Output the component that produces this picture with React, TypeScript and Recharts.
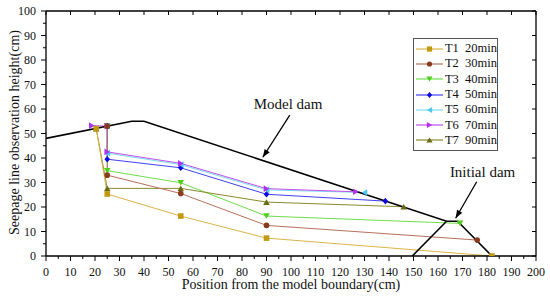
import { Legend, Line, LineChart, ReferenceDot, XAxis, YAxis } from "recharts";

// Seepage line positions at each observation time, plus the dam outlines.
// Values read off the figure by eye.

const FONT = "'Liberation Serif', 'Times New Roman', serif";

const xTicks = [
  0, 5, 10, 15, 20, 25, 30, 35, 40, 45, 50, 55, 60, 65, 70, 75, 80, 85, 90, 95,
  100, 105, 110, 115, 120, 125, 130, 135, 140, 145, 150, 155, 160, 165, 170,
  175, 180, 185, 190, 195, 200,
];
const xMajor = [0, 10, 20, 30, 40, 50, 60, 70, 80, 90, 100, 110, 120, 130, 140, 150, 160, 170, 180, 190, 200];
const yTicks = [0, 5, 10, 15, 20, 25, 30, 35, 40, 45, 50, 55, 60, 65, 70, 75, 80, 85, 90, 95, 100];
const yMajor = [0, 10, 20, 30, 40, 50, 60, 70, 80, 90, 100];

const t1 = [
  { x: 20.5, y: 52 },
  { x: 25, y: 25.3 },
  { x: 55, y: 16.3 },
  { x: 90, y: 7.3 },
  { x: 182, y: 0 },
];
const t2 = [
  { x: 25, y: 53 },
  { x: 25, y: 33 },
  { x: 55, y: 25.5 },
  { x: 90, y: 12.5 },
  { x: 176, y: 6.5 },
];
const t3 = [
  { x: 25, y: 53 },
  { x: 25, y: 34.8 },
  { x: 55, y: 29.9 },
  { x: 90, y: 16.3 },
  { x: 169, y: 13.3 },
];
const t4 = [
  { x: 25, y: 53 },
  { x: 25, y: 39.5 },
  { x: 55, y: 36 },
  { x: 90, y: 25.2 },
  { x: 138.5, y: 22.4 },
];
const t5 = [
  { x: 25, y: 53 },
  { x: 25, y: 42 },
  { x: 55, y: 37.3 },
  { x: 90, y: 27 },
  { x: 130, y: 25.9 },
];
const t6 = [
  { x: 18.7, y: 53.2 },
  { x: 25, y: 53 },
  { x: 25, y: 42.5 },
  { x: 55, y: 37.8 },
  { x: 90, y: 27.5 },
  { x: 126.5, y: 26.2 },
];
const t7 = [
  { x: 20.5, y: 52 },
  { x: 25, y: 27.6 },
  { x: 55, y: 27.6 },
  { x: 90, y: 22 },
  { x: 146, y: 20.1 },
];

const damOutline = [
  { x: 0, y: 48 },
  { x: 35, y: 55 },
  { x: 40, y: 55 },
  { x: 163.5, y: 14.2 },
  { x: 168, y: 14.2 },
  { x: 182, y: 0 },
];
const initialDamLeg = [
  { x: 149.5, y: 0 },
  { x: 163.5, y: 14.2 },
];
const modelArrow = [
  { x: 99.5, y: 57.5 },
  { x: 88.5, y: 40.3 },
];
const initialArrow = [
  { x: 175.8, y: 30.3 },
  { x: 167.2, y: 15.4 },
];

type Shape = "square" | "circle" | "down" | "diamond" | "left" | "right" | "up";

const series = [
  { name: "T1", time: "20min", data: t1, line: "#dcb44a", fill: "#c29a12", shape: "square" as Shape },
  { name: "T2", time: "30min", data: t2, line: "#b8705a", fill: "#8a3a1c", shape: "circle" as Shape },
  { name: "T3", time: "40min", data: t3, line: "#6ee04a", fill: "#4fcf1c", shape: "down" as Shape },
  { name: "T4", time: "50min", data: t4, line: "#4040ee", fill: "#0a0ae0", shape: "diamond" as Shape },
  { name: "T5", time: "60min", data: t5, line: "#7adcee", fill: "#4cc8ee", shape: "left" as Shape },
  { name: "T6", time: "70min", data: t6, line: "#c050ee", fill: "#b030f0", shape: "right" as Shape },
  { name: "T7", time: "90min", data: t7, line: "#8a8a30", fill: "#6a6a10", shape: "up" as Shape },
];

// paint order: T1 and T2 end up on top where the start points pile up
const drawOrder = ["T3", "T4", "T5", "T6", "T7", "T1", "T2"];

function Marker({ shape, cx, cy, color, s = 3 }: { shape: Shape; cx: number; cy: number; color: string; s?: number }) {
  switch (shape) {
    case "square":
      return <rect x={cx - s} y={cy - s} width={s * 2} height={s * 2} fill={color} />;
    case "circle":
      return <circle cx={cx} cy={cy} r={s} fill={color} />;
    case "down":
      return <polygon points={`${cx - s - 0.5},${cy - s} ${cx + s + 0.5},${cy - s} ${cx},${cy + s}`} fill={color} />;
    case "up":
      return <polygon points={`${cx - s - 0.5},${cy + s} ${cx + s + 0.5},${cy + s} ${cx},${cy - s}`} fill={color} />;
    case "diamond":
      return <polygon points={`${cx},${cy - s - 0.5} ${cx + s},${cy} ${cx},${cy + s + 0.5} ${cx - s},${cy}`} fill={color} />;
    case "left":
      return <polygon points={`${cx + s},${cy - s - 0.5} ${cx + s},${cy + s + 0.5} ${cx - s},${cy}`} fill={color} />;
    case "right":
      return <polygon points={`${cx - s},${cy - s - 0.5} ${cx - s},${cy + s + 0.5} ${cx + s},${cy}`} fill={color} />;
  }
}

function BottomTick({ x, y, payload }: any) {
  const major = xMajor.includes(payload.value);
  return (
    <g>
      <line x1={x} x2={x} y1={y} y2={y + (major ? 5 : 3)} stroke="#000" strokeWidth={1} />
      {major && (
        <text x={x} y={y + 19.5} textAnchor="middle" fontSize={12} fontFamily={FONT} fill="#111">
          {payload.value}
        </text>
      )}
    </g>
  );
}

function LeftTick({ x, y, payload }: any) {
  const major = yMajor.includes(payload.value);
  return (
    <g>
      <line x1={x} x2={x - (major ? 5 : 3)} y1={y} y2={y} stroke="#000" strokeWidth={1} />
      {major && (
        <text x={x - 10} y={y + 4} textAnchor="end" fontSize={12} fontFamily={FONT} fill="#111">
          {payload.value}
        </text>
      )}
    </g>
  );
}

function TopTick({ x, y }: any) {
  return <line x1={x} x2={x} y1={y} y2={y + 4} stroke="#000" strokeWidth={1} />;
}

function RightTick({ x, y }: any) {
  return <line x1={x} x2={x - 4} y1={y} y2={y} stroke="#000" strokeWidth={1} />;
}

function arrowHead(from: { x: number; y: number }, to: { x: number; y: number }) {
  // direction in screen space (x ~2.45 px/unit, y ~2.45 px/unit, y flipped)
  const dx = (to.x - from.x) * 2.45;
  const dy = -(to.y - from.y) * 2.45;
  const angle = (Math.atan2(dy, dx) * 180) / Math.PI;
  return function ArrowDot(props: any) {
    const { cx, cy, index } = props;
    if (index !== 1) return <g key={`a-${index}`} />;
    return (
      <polygon
        key={`a-${index}`}
        points={`0,0 -8,-3 -8,3`}
        transform={`translate(${cx},${cy}) rotate(${angle})`}
        fill="#000"
      />
    );
  };
}

function LegendBox() {
  return (
    <div
      style={{
        border: "1px solid #555",
        background: "#fff",
        width: 83,
        padding: "2px 0",
        fontFamily: FONT,
        fontSize: 12.5,
        color: "#111",
      }}
    >
      {series.map((s) => (
        <div key={s.name} style={{ display: "flex", alignItems: "center", height: 15.3 }}>
          <svg width={30} height={12} style={{ marginLeft: 1 }}>
            <line x1={1} x2={28} y1={6} y2={6} stroke={s.line} strokeWidth={1.2} />
            <Marker shape={s.shape} cx={14.5} cy={6} color={s.fill} s={2.6} />
          </svg>
          <span style={{ whiteSpace: "pre", marginLeft: 2 }}>{`${s.name}  ${s.time}`}</span>
        </div>
      ))}
    </div>
  );
}

export default function App() {
  const ordered = drawOrder.map((n) => series.find((s) => s.name === n)!);
  return (
    <div style={{ position: "absolute", left: 0, top: 0, width: 550, height: 298, background: "#fff" }}>
      <LineChart width={550} height={298} margin={{ top: 0, right: 0, bottom: 0, left: 0 }}>
        <XAxis
          xAxisId={0}
          dataKey="x"
          type="number"
          domain={[0, 200]}
          ticks={xTicks}
          interval={0}
          tickSize={0}
          tickMargin={0}
          tick={<BottomTick />}
          axisLine={{ stroke: "#000", strokeWidth: 1.3 }}
          height={42}
          allowDataOverflow
          label={{
            content: ({ viewBox }: any) => (
              <text
                x={viewBox.x + viewBox.width / 2}
                y={viewBox.y + 33}
                textAnchor="middle"
                fontSize={14}
                fontFamily={FONT}
                fill="#111"
              >
                Position from the model boundary(cm)
              </text>
            ),
          }}
        />
        <XAxis
          xAxisId="top"
          orientation="top"
          dataKey="x"
          type="number"
          domain={[0, 200]}
          ticks={xMajor}
          interval={0}
          tickSize={0}
          tickMargin={0}
          tick={<TopTick />}
          axisLine={{ stroke: "#000", strokeWidth: 1.3 }}
          height={11}
          allowDataOverflow
        />
        <YAxis
          yAxisId={0}
          type="number"
          domain={[0, 100]}
          ticks={yTicks}
          interval={0}
          tickSize={0}
          tickMargin={0}
          tick={<LeftTick />}
          axisLine={{ stroke: "#000", strokeWidth: 1.3 }}
          width={46}
          allowDataOverflow
          label={{
            content: ({ viewBox }: any) => {
              const cx = 14;
              const cy = viewBox.y + viewBox.height / 2 - 1;
              return (
                <text
                  x={cx}
                  y={cy}
                  transform={`rotate(-90 ${cx} ${cy})`}
                  textAnchor="middle"
                  dominantBaseline="central"
                  fontSize={14}
                  fontFamily={FONT}
                  fill="#111"
                >
                  Seepage line observation height(cm)
                </text>
              );
            },
          }}
        />
        <YAxis
          yAxisId="right"
          orientation="right"
          type="number"
          domain={[0, 100]}
          ticks={yMajor}
          interval={0}
          tickSize={0}
          tickMargin={0}
          tick={<RightTick />}
          axisLine={{ stroke: "#000", strokeWidth: 1.3 }}
          width={14}
          allowDataOverflow
        />

        {ordered.map((s) => (
          <Line
            key={s.name}
            data={s.data}
            dataKey="y"
            type="linear"
            stroke={s.line}
            strokeWidth={1}
            isAnimationActive={false}
            dot={(p: any) => (
              <Marker key={`${s.name}-${p.index}`} shape={s.shape} cx={p.cx} cy={p.cy} color={s.fill} s={2.8} />
            )}
            activeDot={false}
            legendType="none"
          />
        ))}

        <Line
          data={damOutline}
          dataKey="y"
          type="linear"
          stroke="#000"
          strokeWidth={1.6}
          dot={false}
          activeDot={false}
          isAnimationActive={false}
          legendType="none"
        />
        <Line
          data={initialDamLeg}
          dataKey="y"
          type="linear"
          stroke="#000"
          strokeWidth={1.6}
          dot={false}
          activeDot={false}
          isAnimationActive={false}
          legendType="none"
        />
        <Line
          data={modelArrow}
          dataKey="y"
          type="linear"
          stroke="#000"
          strokeWidth={1.3}
          dot={arrowHead(modelArrow[0], modelArrow[1])}
          activeDot={false}
          isAnimationActive={false}
          legendType="none"
        />
        <Line
          data={initialArrow}
          dataKey="y"
          type="linear"
          stroke="#000"
          strokeWidth={1.3}
          dot={arrowHead(initialArrow[0], initialArrow[1])}
          activeDot={false}
          isAnimationActive={false}
          legendType="none"
        />

        <ReferenceDot
          x={98.8}
          y={62.3}
          r={0}
          fill="none"
          stroke="none"
          label={{ value: "Model dam", position: "center", fontSize: 15, fontFamily: FONT, fill: "#111" }}
        />
        <ReferenceDot
          x={178.2}
          y={34.6}
          r={0}
          fill="none"
          stroke="none"
          label={{ value: "Initial dam", position: "center", fontSize: 15, fontFamily: FONT, fill: "#111" }}
        />

        <Legend
          layout="vertical"
          align="center"
          verticalAlign="middle"
          wrapperStyle={{ position: "absolute", left: 413, top: 38, width: 85, height: 110 }}
          content={() => <LegendBox />}
        />
      </LineChart>
    </div>
  );
}
